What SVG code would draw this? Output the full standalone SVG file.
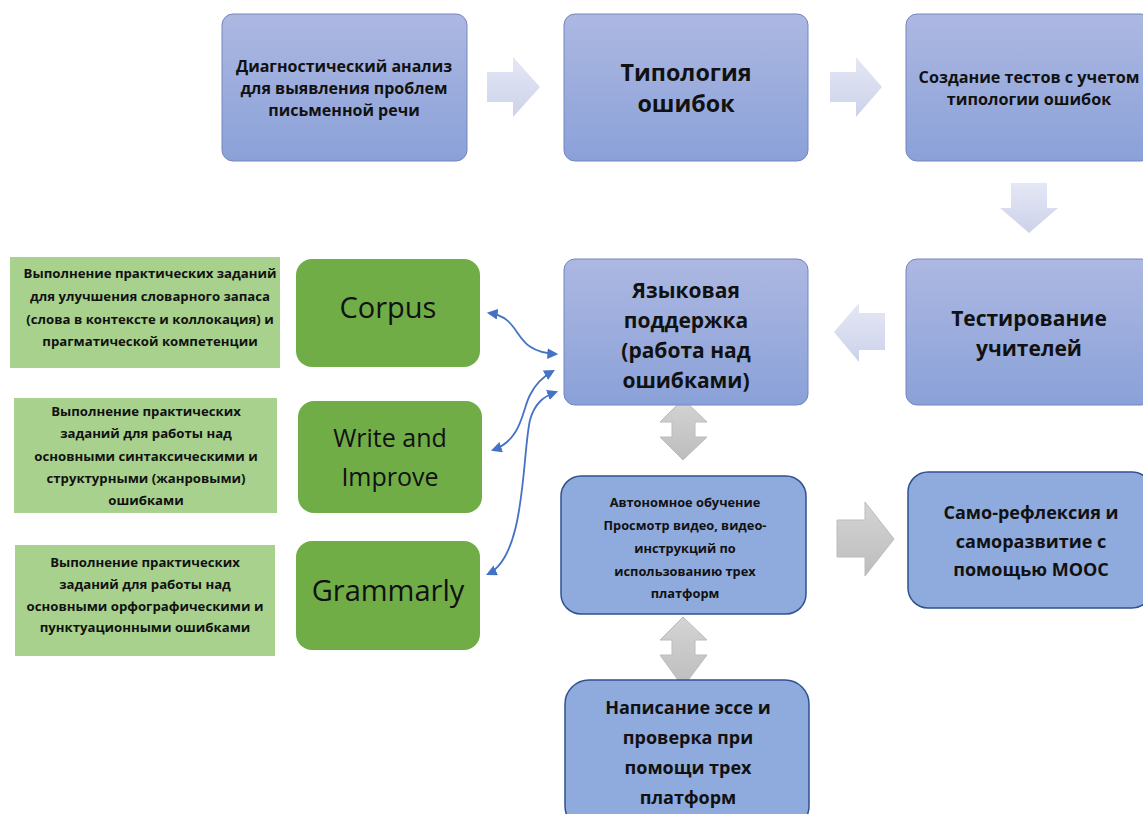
<svg xmlns="http://www.w3.org/2000/svg" width="1143" height="814" viewBox="0 0 1143 814">
<style>
.t{font-family:"Open Sans","Noto Sans","DejaVu Sans",sans-serif;font-weight:bold;fill:#111;text-anchor:middle;dominant-baseline:central}
.g{font-family:"Open Sans","Noto Sans","DejaVu Sans",sans-serif;font-weight:normal;fill:#111;text-anchor:middle;dominant-baseline:central}
.top{fill:url(#gTop);stroke:#7485bd;stroke-width:1}
.bot{fill:#8faadc;stroke:#2f528f;stroke-width:1.5}
.grn{fill:#70ad47}
.lgrn{fill:#a9d18e}
.la{fill:url(#gLav)}
.ga{fill:url(#gGrey);stroke:#bcbcbc;stroke-width:1}
.cur{fill:none;stroke:#4472c4;stroke-width:1.8;marker-start:url(#ah);marker-end:url(#ah)}
</style>
<defs>
<linearGradient id="gTop" x1="0" y1="0" x2="0" y2="1">
<stop offset="0" stop-color="#adb8e2"/>
<stop offset="1" stop-color="#8aa1d8"/>
</linearGradient>
<linearGradient id="gLav" x1="0" y1="0" x2="0" y2="1">
<stop offset="0" stop-color="#e4e7f4"/>
<stop offset="1" stop-color="#ccd2ea"/>
</linearGradient>
<linearGradient id="gGrey" x1="0" y1="0" x2="0" y2="1">
<stop offset="0" stop-color="#d4d4d4"/>
<stop offset="1" stop-color="#bdbdbd"/>
</linearGradient>
<marker id="ah" viewBox="0 0 10 10" refX="8" refY="5" markerWidth="6" markerHeight="6" orient="auto-start-reverse" markerUnits="strokeWidth">
<path d="M0,0 L10,5 L0,10 z" fill="#4472c4"/>
</marker>
</defs>
<rect width="1143" height="814" fill="#ffffff"/>

<g id="connectors">
<polygon class="la" points="487,72 513,72 513,57 540,87 513,117 513,102 487,102"/>
<polygon class="la" points="830,72 856,72 856,57 882,87 856,117 856,102 830,102"/>
<polygon class="la" points="1011,183 1047,183 1047,208 1058,208 1029,233 1000,208 1011,208"/>
<polygon class="la" points="885,313 859,313 859,303 834,332 859,362 859,350 885,350"/>
<polygon class="ga" points="683,399 707,422 695,422 695,437 707,437 683,460 660,437 672,437 672,422 660,422"/>
<polygon class="ga" points="683,617 707,640 695,640 695,655 707,655 683,687 660,655 672,655 672,640 660,640"/>
<polygon class="ga" points="837,520 865,520 865,502 894,539 865,576 865,557 837,557"/>
<path class="cur" d="M489,313 C525,318 510,352 556,354"/>
<path class="cur" d="M493,450 C522,440 522,410 530,395 C536,383 544,376 553,371"/>
<path class="cur" d="M488,574 C526,556 522,455 530,420 C535,402 545,396 556,392"/>
</g>

<g id="n1">
<rect class="top" x="222" y="14" width="245" height="147" rx="11"/>
<text class="t" font-size="16" x="344" y="66">Диагностический анализ</text>
<text class="t" font-size="16" x="344" y="88">для выявления проблем</text>
<text class="t" font-size="16" x="344" y="110">письменной речи</text>
</g>
<g id="n2">
<rect class="top" x="564" y="14" width="244" height="147" rx="11"/>
<text class="t" font-size="23.3" x="686" y="72">Типология</text>
<text class="t" font-size="23.3" x="686" y="103">ошибок</text>
</g>
<g id="n3">
<rect class="top" x="906" y="14" width="246" height="147" rx="11"/>
<text class="t" font-size="16.2" x="1029" y="77">Создание тестов с учетом</text>
<text class="t" font-size="16.2" x="1029" y="99">типологии ошибок</text>
</g>
<g id="n4">
<rect class="top" x="906" y="259" width="246" height="146" rx="11"/>
<text class="t" font-size="21" x="1029" y="318">Тестирование</text>
<text class="t" font-size="21" x="1029" y="348">учителей</text>
</g>
<g id="n5">
<rect class="top" x="564" y="259" width="244" height="146" rx="11"/>
<text class="t" font-size="21" x="686" y="290">Языковая</text>
<text class="t" font-size="21" x="686" y="320">поддержка</text>
<text class="t" font-size="21" x="686" y="350">(работа над</text>
<text class="t" font-size="21" x="686" y="380">ошибками)</text>
</g>
<g id="n6">
<rect class="bot" x="561" y="476" width="245" height="138" rx="20"/>
<text class="t" font-size="12.8" x="685" y="502">Автономное обучение</text>
<text class="t" font-size="12.8" x="685" y="525">Просмотр видео, видео-</text>
<text class="t" font-size="12.8" x="685" y="548">инструкций по</text>
<text class="t" font-size="12.8" x="685" y="571">использованию трех</text>
<text class="t" font-size="12.8" x="685" y="593">платформ</text>
</g>
<g id="n7">
<rect class="bot" x="908" y="472" width="244" height="136" rx="20"/>
<text class="t" font-size="18" x="1031" y="512">Само-рефлексия и</text>
<text class="t" font-size="18" x="1031" y="541">саморазвитие с</text>
<text class="t" font-size="18" x="1031" y="569">помощью МООС</text>
</g>
<g id="n8">
<rect class="bot" x="565" y="680" width="244" height="150" rx="24"/>
<text class="t" font-size="18" x="688" y="707">Написание эссе и</text>
<text class="t" font-size="18" x="688" y="737">проверка при</text>
<text class="t" font-size="18" x="688" y="767">помощи трех</text>
<text class="t" font-size="18" x="688" y="797">платформ</text>
</g>
<g id="n9">
<rect class="grn" x="296" y="259" width="184" height="108" rx="16"/>
<text class="g" font-size="29" x="388" y="306">Corpus</text>
</g>
<g id="n10">
<rect class="grn" x="298" y="401" width="184" height="112" rx="16"/>
<text class="g" font-size="25" x="390" y="437">Write and</text>
<text class="g" font-size="25" x="390" y="476">Improve</text>
</g>
<g id="n11">
<rect class="grn" x="296" y="541" width="184" height="109" rx="16"/>
<text class="g" font-size="29" x="388" y="589">Grammarly</text>
</g>
<g id="n12">
<rect class="lgrn" x="10" y="257" width="270" height="111"/>
<text class="t" font-size="13.2" x="150" y="273">Выполнение практических заданий</text>
<text class="t" font-size="13.2" x="150" y="296">для улучшения словарного запаса</text>
<text class="t" font-size="13.2" x="150" y="319">(слова в контексте и коллокация) и</text>
<text class="t" font-size="13.2" x="150" y="341">прагматической компетенции</text>
</g>
<g id="n13">
<rect class="lgrn" x="14" y="398" width="263" height="115"/>
<text class="t" font-size="13.2" x="146" y="411">Выполнение практических</text>
<text class="t" font-size="13.2" x="146" y="433">заданий для работы над</text>
<text class="t" font-size="13.2" x="146" y="456">основными синтаксическими и</text>
<text class="t" font-size="13.2" x="146" y="478">структурными (жанровыми)</text>
<text class="t" font-size="13.2" x="146" y="500">ошибками</text>
</g>
<g id="n14">
<rect class="lgrn" x="15" y="545" width="260" height="111"/>
<text class="t" font-size="13.2" x="145" y="562">Выполнение практических</text>
<text class="t" font-size="13.2" x="145" y="584">заданий для работы над</text>
<text class="t" font-size="13.2" x="145" y="606">основными орфографическими и</text>
<text class="t" font-size="13.2" x="145" y="627">пунктуационными ошибками</text>
</g>
</svg>
